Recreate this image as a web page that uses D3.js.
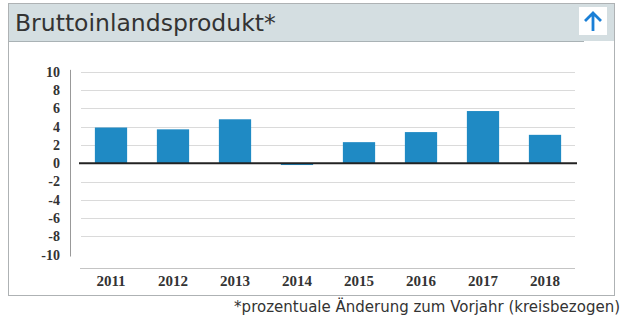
<!DOCTYPE html>
<html><head><meta charset="utf-8">
<script src="https://cdn.jsdelivr.net/npm/d3@7"></script>
<style>body{margin:0;background:#fff;}svg{display:block;}</style>
</head><body><svg id="c" width="621" height="316"></svg>
<script>
const years = ["2011","2012","2013","2014","2015","2016","2017","2018"];
const values = [3.9, 3.7, 4.8, -0.2, 2.3, 3.4, 5.7, 3.1];
const yTicks = [10, 8, 6, 4, 2, 0, -2, -4, -6, -8, -10];
const title = "Bruttoinlandsprodukt*";
const footnote = "*prozentuale Änderung zum Vorjahr (kreisbezogen)";

const svg = d3.select("#c");
// outer frame
svg.append("rect").attr("x",8.5).attr("y",3.5).attr("width",606).attr("height",292)
  .attr("fill","#fff").attr("stroke","#aeb2b4").attr("stroke-width",1);
// header
svg.append("rect").attr("x",9).attr("y",4).attr("width",605).attr("height",37).attr("fill","#d4dee1");
svg.append("line").attr("x1",9).attr("x2",584).attr("y1",41.5).attr("y2",41.5).attr("stroke","#a9b2b5");
svg.append("text").attr("x",15).attr("y",31).text(title)
  .attr("font-family","'DejaVu Sans', Verdana, sans-serif").attr("font-size",23.5).attr("fill","#333");
// arrow icon
const ic = svg.append("g");
ic.append("rect").attr("x",579).attr("y",7).attr("width",28).attr("height",28).attr("fill","#fff");
ic.append("path").attr("d","M593,31 L593,13 M585,21 L593,13 L601,21")
  .attr("fill","none").attr("stroke","#1a7fd6").attr("stroke-width",2.8);

const x = d3.scaleBand().domain(years).range([80, 576]).paddingInner(0.48).paddingOuter(0.24);
const y = d3.scaleLinear().domain([-10, 10]).range([254.7, 71.7]);

// gridlines
svg.append("g").selectAll("line").data(yTicks.filter(d => d !== 0 && d !== -10)).join("line")
  .attr("x1",81).attr("x2",575).attr("y1",d=>Math.round(y(d))+0.5).attr("y2",d=>Math.round(y(d))+0.5)
  .attr("stroke","#dadada").attr("stroke-width",1);
// bottom line
svg.append("line").attr("x1",80).attr("x2",575).attr("y1",Math.round(y(-11.5))+0.5).attr("y2",Math.round(y(-11.5))+0.5)
  .attr("stroke","#c4c4c4");
// y axis
const yAxis = d3.axisLeft(y).tickValues(yTicks).tickSize(0).tickPadding(10).tickFormat(d => d < 0 ? "-" + Math.abs(d) : String(d));
const ga = svg.append("g").attr("transform","translate(70,0)").call(yAxis);
ga.select(".domain").attr("stroke","#999").attr("d", `M0.5,${y(10.2)}V${y(-10.2)}`);
ga.selectAll("text").attr("font-family","'Liberation Serif', 'Times New Roman', serif").attr("font-weight","bold")
  .attr("font-size",14).attr("fill","#333");

// bars
svg.append("g").selectAll("rect").data(values).join("rect")
  .attr("x",(d,i)=>x(years[i])).attr("width",x.bandwidth())
  .attr("y",d=>y(Math.max(0,d))).attr("height",d=>Math.abs(y(d)-y(0)))
  .attr("fill","#1f8ac4");

// zero line
svg.append("line").attr("x1",79).attr("x2",577).attr("y1",y(0)).attr("y2",y(0))
  .attr("stroke","#222").attr("stroke-width",2);

// x axis labels
const xAxis = d3.axisBottom(x).tickSize(0).tickPadding(0);
const gx = svg.append("g").attr("transform",`translate(0,${y(-11.5)+7})`).call(xAxis);
gx.select(".domain").remove();
gx.selectAll("text").attr("font-family","'Liberation Serif', 'Times New Roman', serif").attr("font-weight","bold")
  .attr("font-size",15).attr("fill","#333");

// footnote
svg.append("text").attr("x",620).attr("y",312).attr("text-anchor","end").text(footnote)
  .attr("font-family","'DejaVu Sans', Verdana, sans-serif").attr("font-size",15).attr("fill","#333");
</script></body></html>
